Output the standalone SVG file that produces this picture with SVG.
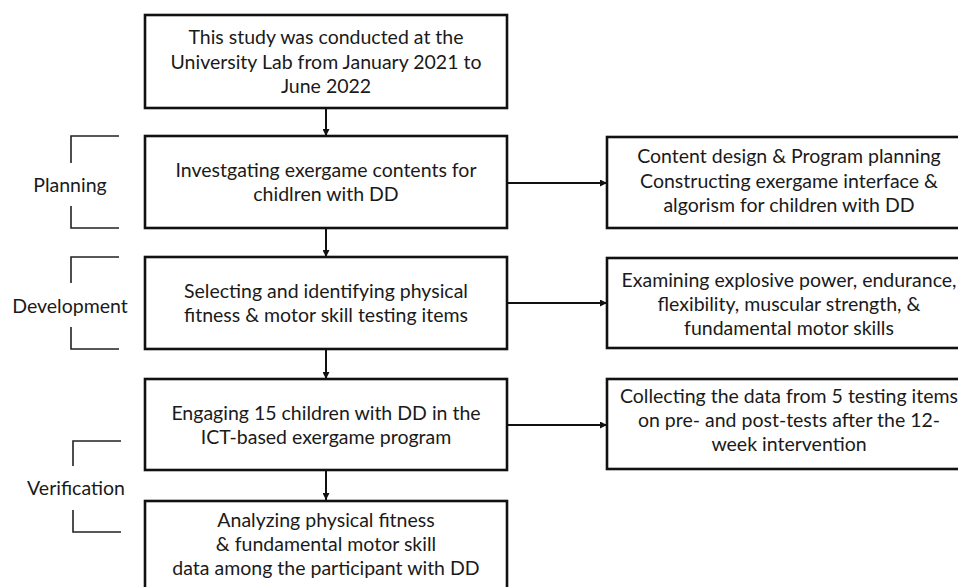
<svg xmlns="http://www.w3.org/2000/svg" width="958" height="587" viewBox="0 0 958 587">
<style>
.box{fill:#fff;stroke:#111;stroke-width:2.6}
.t{font-family:Lato,"Open Sans",sans-serif;font-size:19.5px;fill:#1a1a1a;text-anchor:middle}
.br{fill:none;stroke:#222;stroke-width:1.6}
.c{stroke:#111;stroke-width:2;fill:none}
</style>
<defs>
<marker id="ah" viewBox="0 0 10 10" refX="10" refY="5" markerWidth="8" markerHeight="7" markerUnits="userSpaceOnUse" orient="auto">
<path d="M0,0 L10,5 L0,10 z" fill="#111"/>
</marker>
</defs>
<rect width="958" height="587" fill="#fff"/>
<g id="labels">
<g id="planning">
<path class="br" d="M119,136 H71 V163 M71,206 V228 H119"/>
<text class="t" x="70" y="192">Planning</text>
</g>
<g id="development">
<path class="br" d="M119,257 H71 V283 M71,327 V349 H119"/>
<text class="t" x="70" y="313">Development</text>
</g>
<g id="verification">
<path class="br" d="M121,441 H73 V466 M73,510 V532 H121"/>
<text class="t" x="76" y="495">Verification</text>
</g>
</g>
<g id="connectors">
<line class="c" x1="326" y1="108" x2="326" y2="136" marker-end="url(#ah)"/>
<line class="c" x1="326" y1="228" x2="326" y2="257" marker-end="url(#ah)"/>
<line class="c" x1="326" y1="349" x2="326" y2="379" marker-end="url(#ah)"/>
<line class="c" x1="326" y1="470" x2="326" y2="500" marker-end="url(#ah)"/>
<line class="c" x1="507" y1="183" x2="607" y2="183" marker-end="url(#ah)"/>
<line class="c" x1="507" y1="303" x2="607" y2="303" marker-end="url(#ah)"/>
<line class="c" x1="507" y1="425" x2="607" y2="425" marker-end="url(#ah)"/>
</g>
<g id="n1">
<rect class="box" x="145" y="15" width="362" height="93"/>
<text class="t" x="326" y="44">This study was conducted at the</text>
<text class="t" x="326" y="68.5">University Lab from January 2021 to</text>
<text class="t" x="326" y="93">June 2022</text>
</g>
<g id="n2">
<rect class="box" x="145" y="136" width="362" height="92"/>
<text class="t" x="326" y="177">Investgating exergame contents for</text>
<text class="t" x="326" y="201">chidlren with DD</text>
</g>
<g id="n3">
<rect class="box" x="145" y="257" width="362" height="92"/>
<text class="t" x="326" y="298">Selecting and identifying physical</text>
<text class="t" x="326" y="322">fitness &amp; motor skill testing items</text>
</g>
<g id="n4">
<rect class="box" x="145" y="379" width="362" height="91"/>
<text class="t" x="326" y="420">Engaging 15 children with DD in the</text>
<text class="t" x="326" y="444">ICT-based exergame program</text>
</g>
<g id="n5">
<rect class="box" x="145" y="501" width="362" height="100"/>
<text class="t" x="326" y="527">Analyzing physical fitness</text>
<text class="t" x="326" y="551">&amp; fundamental motor skill</text>
<text class="t" x="326" y="575">data among the participant with DD</text>
</g>
<g id="r1">
<rect class="box" x="607" y="137" width="364" height="91"/>
<text class="t" x="789" y="163">Content design &amp; Program planning</text>
<text class="t" x="789" y="187.5">Constructing exergame interface &amp;</text>
<text class="t" x="789" y="212">algorism for children with DD</text>
</g>
<g id="r2">
<rect class="box" x="607" y="258" width="364" height="90"/>
<text class="t" x="789" y="287">Examining explosive power, endurance,</text>
<text class="t" x="789" y="311">flexibility, muscular strength, &amp;</text>
<text class="t" x="789" y="335">fundamental motor skills</text>
</g>
<g id="r3">
<rect class="box" x="607" y="379" width="364" height="90"/>
<text class="t" x="789" y="403">Collecting the data from 5 testing items</text>
<text class="t" x="789" y="427">on pre- and post-tests after the 12-</text>
<text class="t" x="789" y="451">week intervention</text>
</g>
</svg>
